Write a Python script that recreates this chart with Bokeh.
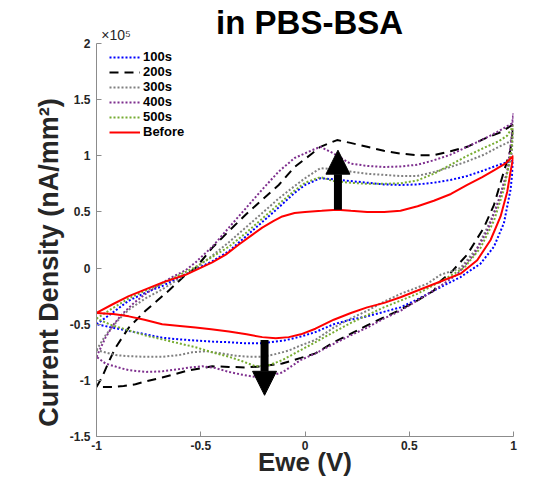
from bokeh.plotting import figure
from bokeh.models import Range1d, Legend, LegendItem, Arrow, NormalHead, FixedTicker, LinearAxis
from bokeh.embed import file_html
from bokeh.resources import INLINE

# ---------------- data (current density in units of 1e5 nA/mm^2) ----------------
e_before = [-1.0, -0.92, -0.845, -0.765, -0.685, -0.573, -0.445, -0.38, -0.317, -0.25, -0.205, -0.15, -0.109, -0.05, 0.0,
            0.08, 0.154, 0.22, 0.298, 0.38, 0.458, 0.54, 0.618, 0.70, 0.778, 0.85, 0.906, 0.96, 1.0,
            0.985, 0.97, 0.938, 0.89, 0.826, 0.746, 0.65, 0.54, 0.458, 0.38, 0.298, 0.22, 0.138, 0.05, -0.02,
            -0.078, -0.14, -0.205, -0.28, -0.365, -0.45, -0.525, -0.60, -0.685, -0.77, -0.845, -0.92, -1.0]
j_before = [-0.40, -0.32, -0.25, -0.19, -0.13, -0.06, 0.05, 0.12, 0.21, 0.30, 0.36, 0.42, 0.46, 0.49, 0.50,
            0.51, 0.52, 0.51, 0.50, 0.50, 0.51, 0.55, 0.60, 0.66, 0.74, 0.81, 0.87, 0.93, 1.0,
            0.85, 0.68, 0.46, 0.25, 0.07, -0.05, -0.12, -0.20, -0.26, -0.31, -0.35, -0.40, -0.46, -0.54, -0.59,
            -0.615, -0.625, -0.615, -0.59, -0.565, -0.545, -0.53, -0.515, -0.50, -0.46, -0.43, -0.41, -0.40]

e_100 = [-1.0, -0.925, -0.845, -0.765, -0.685, -0.6, -0.525, -0.445, -0.365, -0.285, -0.205, -0.126, -0.05, 0.0,
         0.074, 0.14, 0.218, 0.30, 0.378, 0.458, 0.538, 0.618, 0.698, 0.778, 0.858, 0.93, 1.0,
         0.986, 0.954, 0.906, 0.842, 0.746, 0.65, 0.538, 0.458, 0.378, 0.298, 0.218, 0.138, 0.05, -0.02,
         -0.1, -0.205, -0.285, -0.365, -0.445, -0.525, -0.605, -0.685, -0.765, -0.845, -0.925, -1.0]
j_100 = [-0.50, -0.40, -0.29, -0.22, -0.16, -0.08, -0.01, 0.06, 0.15, 0.28, 0.41, 0.54, 0.67, 0.74,
         0.80, 0.79, 0.775, 0.76, 0.745, 0.74, 0.745, 0.76, 0.785, 0.82, 0.87, 0.92, 0.96,
         0.70, 0.40, 0.19, 0.04, -0.08, -0.17, -0.28, -0.35, -0.39, -0.43, -0.46, -0.50, -0.57, -0.61,
         -0.645, -0.67, -0.67, -0.66, -0.655, -0.645, -0.635, -0.62, -0.59, -0.56, -0.53, -0.50]

e_200 = [-1.0, -0.973, -0.94, -0.909, -0.845, -0.765, -0.653, -0.573, -0.525, -0.445, -0.365, -0.285, -0.205, -0.126,
         -0.05, 0.034, 0.074, 0.154, 0.218, 0.298, 0.378, 0.458, 0.538, 0.618, 0.698, 0.778, 0.858, 0.938, 1.0,
         0.985, 0.954, 0.906, 0.858, 0.778, 0.70, 0.65, 0.618, 0.538, 0.458, 0.378, 0.298, 0.218, 0.138, 0.05,
         -0.02, -0.109, -0.205, -0.285, -0.365, -0.445, -0.557, -0.625, -0.685, -0.765, -0.813, -0.87, -0.925, -1.0]
j_200 = [-1.06, -0.97, -0.83, -0.71, -0.53, -0.38, -0.20, -0.06, 0.0, 0.18, 0.33, 0.475, 0.61, 0.74,
         0.90, 1.02, 1.08, 1.14, 1.115, 1.08, 1.045, 1.02, 1.005, 1.005, 1.04, 1.08, 1.15, 1.21, 1.28,
         1.05, 0.86, 0.56, 0.36, 0.12, -0.04, -0.115, -0.20, -0.29, -0.37, -0.44, -0.51, -0.587, -0.66, -0.76,
         -0.80, -0.85, -0.875, -0.885, -0.88, -0.875, -0.91, -0.945, -0.975, -1.01, -1.035, -1.05, -1.06, -1.06]

e_300 = [-1.0, -0.957, -0.9, -0.845, -0.765, -0.685, -0.6, -0.525, -0.445, -0.365, -0.285, -0.205, -0.126, -0.05, 0.0,
         0.074, 0.14, 0.218, 0.298, 0.378, 0.458, 0.538, 0.618, 0.698, 0.778, 0.858, 0.93, 0.986, 1.0,
         0.99, 0.97, 0.938, 0.89, 0.826, 0.746, 0.65, 0.586, 0.458, 0.378, 0.298, 0.218, 0.138, 0.05, -0.022,
         -0.078, -0.15, -0.205, -0.27, -0.333, -0.40, -0.477, -0.54, -0.605, -0.685, -0.765, -0.845, -0.909, -1.0]
j_300 = [-0.73, -0.60, -0.47, -0.37, -0.27, -0.19, -0.09, 0.0, 0.11, 0.23, 0.36, 0.49, 0.62, 0.73, 0.80,
         0.89, 0.88, 0.86, 0.84, 0.83, 0.82, 0.82, 0.855, 0.90, 0.95, 1.01, 1.08, 1.13, 1.20,
         1.0, 0.85, 0.65, 0.42, 0.18, 0.0, -0.06, -0.14, -0.23, -0.30, -0.38, -0.45, -0.53, -0.64, -0.69,
         -0.735, -0.77, -0.79, -0.79, -0.78, -0.76, -0.74, -0.75, -0.775, -0.79, -0.79, -0.785, -0.775, -0.73]

e_400 = [-1.0, -0.957, -0.917, -0.877, -0.82, -0.765, -0.70, -0.637, -0.573, -0.525, -0.445, -0.365, -0.285, -0.205,
         -0.126, -0.05, 0.034, 0.074, 0.138, 0.218, 0.298, 0.378, 0.458, 0.538, 0.618, 0.698, 0.778, 0.858, 0.93,
         0.994, 1.0,
         0.99, 0.97, 0.922, 0.874, 0.81, 0.73, 0.618, 0.538, 0.458, 0.378, 0.298, 0.218, 0.138, 0.05, -0.022,
         -0.109, -0.18, -0.237, -0.30, -0.365, -0.43, -0.493, -0.55, -0.605, -0.685, -0.765, -0.84, -0.877,
         -0.957, -1.0]
j_400 = [-0.79, -0.62, -0.50, -0.41, -0.31, -0.23, -0.15, -0.08, -0.02, 0.05, 0.19, 0.36, 0.53, 0.70,
         0.86, 0.98, 1.05, 1.08, 1.02, 0.93, 0.91, 0.90, 0.905, 0.92, 0.96, 1.01, 1.08, 1.15, 1.22,
         1.29, 1.38,
         1.15, 0.86, 0.56, 0.33, 0.12, -0.056, -0.20, -0.29, -0.38, -0.45, -0.53, -0.60, -0.675, -0.76, -0.82,
         -0.93, -0.965, -0.97, -0.95, -0.925, -0.89, -0.875, -0.885, -0.90, -0.92, -0.925, -0.91, -0.895,
         -0.85, -0.79]

e_500 = [-1.0, -0.925, -0.845, -0.765, -0.685, -0.6, -0.525, -0.445, -0.365, -0.285, -0.205, -0.126, -0.05, 0.0,
         0.074, 0.138, 0.218, 0.298, 0.378, 0.458, 0.538, 0.618, 0.698, 0.778, 0.858, 0.93, 0.97, 1.0,
         0.99, 0.97, 0.954, 0.906, 0.842, 0.762, 0.65, 0.538, 0.378, 0.218, 0.138, 0.05, -0.03, -0.109,
         -0.18, -0.237, -0.30, -0.365, -0.445, -0.525, -0.605, -0.685, -0.765, -0.845, -0.925, -1.0]
j_500 = [-0.45, -0.36, -0.27, -0.20, -0.14, -0.06, 0.01, 0.10, 0.19, 0.31, 0.44, 0.57, 0.69, 0.76,
         0.81, 0.775, 0.76, 0.75, 0.75, 0.755, 0.78, 0.84, 0.92, 1.00, 1.07, 1.13, 1.18, 1.27,
         1.05, 0.85, 0.70, 0.42, 0.18, 0.0, -0.12, -0.23, -0.35, -0.49, -0.57, -0.66, -0.74, -0.82,
         -0.87, -0.875, -0.83, -0.79, -0.75, -0.705, -0.67, -0.635, -0.60, -0.555, -0.51, -0.45]

x_ticks = [-1, -0.5, 0, 0.5, 1]
x_tick_labels = ["-1", "-0.5", "0", "0.5", "1"]
y_ticks = [-1.5, -1, -0.5, 0, 0.5, 1, 1.5, 2]
y_tick_labels = ["-1.5", "-1", "-0.5", "0", "0.5", "1", "1.5", "2"]
multiplier_pos = [-0.906]
multiplier_text = ["×10⁵"]

# arrows: (x, y_start, y_end)
arrow_up = (0.158, 0.52, 1.05)
arrow_down = (-0.194, -0.64, -1.133)

FONT = "Liberation Sans"
NBSP = "\u00a0"

p = figure(width=544, height=479, output_backend="svg", toolbar_location=None,
           x_range=Range1d(-1, 1), y_range=Range1d(-1.5, 2),
           min_border_left=96, min_border_right=31, min_border_top=42, min_border_bottom=42)
p.title.visible = False
p.outline_line_color = None
p.xgrid.visible = False
p.ygrid.visible = False
p.background_fill_color = "white"
p.border_fill_color = "white"

for ax, ticks, labels in ((p.xaxis[0], x_ticks, x_tick_labels), (p.yaxis[0], y_ticks, y_tick_labels)):
    ax.ticker = FixedTicker(ticks=ticks)
    ax.major_label_overrides = {t: l for t, l in zip(ticks, labels)}
    ax.major_tick_in = 5
    ax.major_tick_out = 0
    ax.minor_tick_line_color = None
    ax.axis_line_color = "#8c8c8c"
    ax.major_tick_line_color = "#8c8c8c"
    ax.major_label_text_font = FONT
    ax.major_label_text_font_style = "bold"
    ax.major_label_text_font_size = "12px"
    ax.major_label_text_color = "#262626"
    ax.axis_label_text_font = FONT
    ax.axis_label_text_font_style = "bold"
    ax.axis_label_text_color = "#262626"

p.xaxis.axis_label = "Ewe (V)"
p.xaxis.axis_label_text_font_size = "26px"
p.xaxis.major_label_standoff = 4
p.xaxis.axis_label_standoff = -6
# trailing no-break spaces shift the centred label towards the bottom, as in the original
p.yaxis.axis_label = "Current Density (nA/mm²)" + NBSP * 6
p.yaxis.axis_label_text_font_size = "27px"
p.yaxis.major_label_standoff = 6
p.yaxis.axis_label_standoff = 3

# top "axis": carries the x10^5 multiplier as its tick label and the title as its axis label
top_axis = LinearAxis(ticker=FixedTicker(ticks=multiplier_pos),
                      major_label_overrides={t: s for t, s in zip(multiplier_pos, multiplier_text)},
                      axis_line_color=None, major_tick_line_color=None, minor_tick_line_color=None,
                      major_label_standoff=-5, major_label_text_font=FONT, major_label_text_font_size="14px",
                      major_label_text_color="#262626",
                      axis_label=NBSP + "in PBS-BSA", axis_label_standoff=-17, axis_label_text_font=FONT,
                      axis_label_text_font_style="bold", axis_label_text_font_size="33px",
                      axis_label_text_color="black")
p.add_layout(top_axis, "above")

series = [
    ("100s", e_100, j_100, "#0000ff", "2 2"),
    ("200s", e_200, j_200, "#000000", "9 6"),
    ("300s", e_300, j_300, "#808080", "2 2"),
    ("400s", e_400, j_400, "#7e2f8e", "2 2"),
    ("500s", e_500, j_500, "#77ac30", "2 2"),
    ("Before", e_before, j_before, "#ff0000", "solid"),
]
items = []
for name, xs, ys, col, dash in series:
    r = p.line(xs, ys, line_color=col, line_width=2, line_dash=dash)
    items.append(LegendItem(label=name, renderers=[r]))

legend = Legend(items=items, location=(13, 297), margin=0, padding=0, spacing=0,
                glyph_width=31, glyph_height=14, label_height=14, label_standoff=3,
                label_text_font=FONT, label_text_font_style="bold", label_text_font_size="13px",
                label_text_color="#000000", border_line_color=None, background_fill_alpha=0)
p.add_layout(legend, "center")

for ax_, y0, y1 in (arrow_up, arrow_down):
    p.add_layout(Arrow(end=NormalHead(size=24, fill_color="black", line_color="black", line_width=1),
                       x_start=ax_, y_start=y0, x_end=ax_, y_end=y1,
                       line_width=8, line_color="black", line_cap="butt"))

open("out.html", "w").write(file_html(p, INLINE))
